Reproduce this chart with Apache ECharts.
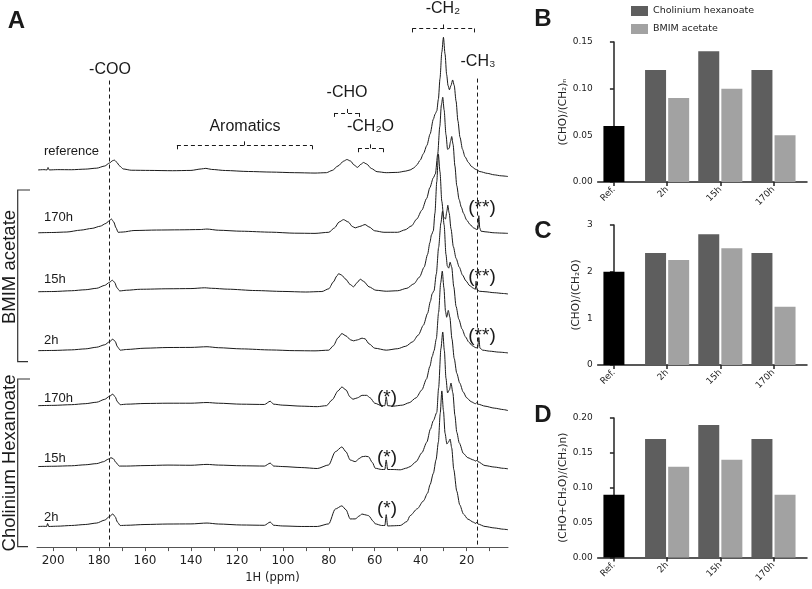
<!DOCTYPE html>
<html><head><meta charset="utf-8">
<script src="https://cdn.jsdelivr.net/npm/echarts@6/dist/echarts.min.js"></script>
<style>html,body{margin:0;padding:0;background:#fff}#c{width:812px;height:589px}</style>
</head><body><div id="c"></div>
<script>
// ---------------- DATA ----------------
const ppmLabelValues = [20, 40, 60, 80, 100, 120, 140, 160, 180, 200];
const ppmTickValues = [10, 20, 30, 40, 50, 60, 70, 80, 90, 100, 110, 120, 130, 140, 150, 160, 170, 180, 190, 200];
const traceNames = ['reference', '170h', '15h', '2h', '170h', '15h', '2h'];

// [ppm, intensity] (intensity relative to its own baseline)
const specReference = [[206.5,0],[204,0.3],[202.6,0],[202.2,2.5],[201.7,0],[198,0.3],[192,0.2],[186,0.8],[181,1.8],[177.5,4],[175.5,7],[174,9.5],[173.3,10],[172.4,8],[171,4],[169.5,1],[166,-0.3],[158,-0.5],[148,-0.8],[140,-0.5],[135.5,1],[133.5,1.6],[131,0.5],[125,-0.6],[115,-1.6],[105,-2.2],[95,-2.8],[86,-3.2],[81,-2.8],[78.5,-0.5],[76,4],[73.5,9],[72.1,10.6],[70.5,9],[69,5],[67.5,2.6],[66,5.8],[64.9,7.6],[63.5,6],[61.5,1.5],[59,-1.8],[55,-2.8],[50,-2.5],[46.5,-1.2],[44.6,0],[43,2],[41.7,5],[40.2,10],[38.8,16.6],[37.3,25],[35.9,36.6],[34.5,51.6],[33.7,57],[33,60],[32.3,72],[31.6,93],[30.8,120],[30.1,135],[29.4,118],[28.7,97],[28.1,86],[27.5,81.6],[26.8,86],[26.1,91.6],[25.4,86],[24.6,70],[23.8,50],[22.9,33.3],[21.8,21],[20.7,13.3],[19.2,7.5],[17.8,3.3],[16,0.5],[14.2,-1.7],[11,-3.5],[8,-5],[5,-6],[2,-6.7]];
const specBmim170 = [[206.5,0],[200,0.3],[194,0.8],[188,2.7],[183,4.5],[179.5,6.7],[177,9.5],[175.5,12.5],[174.6,14],[173.6,11],[172.6,5],[171.7,0.5],[169.5,0.8],[164.8,2.3],[155,2.8],[145,3],[136,3.3],[133,3.8],[128,2.6],[118,1.6],[105,0.6],[95,-0.4],[86,-0.6],[80,0.5],[77.5,5],[75.5,11],[73.6,13.4],[71.5,11],[69.8,6.5],[68.5,5],[66.5,6.5],[64.2,8.4],[62.5,6],[60,2],[56,0.5],[50,0.5],[46.8,3],[44,7],[41.7,14],[39.5,23],[37.4,35],[36,46],[34.5,56],[33.6,60],[32.6,80],[31.7,108],[31,130],[30.4,138],[29.8,125],[29,100],[28.3,85],[27.6,86],[27,93],[26.5,98],[25.9,90],[25.1,68],[24.3,48],[23.3,34],[22.3,26],[21.4,20],[20,13],[18.5,8.4],[17,5],[15.6,3.4],[15.1,4],[14.7,17.4],[14.3,5],[13.8,1.7],[12,1],[8,0],[5,-0.3],[2,-0.6]];
const specBmim15 = [[206.5,0],[200,0.2],[192,1],[186,2],[181,3.5],[177.5,6.5],[175.5,9.5],[174.2,11.7],[173.2,9.5],[172.2,4],[171,0.8],[168,1.5],[162,2.5],[150,3],[140,3.2],[134,4],[131,3.5],[124,2.6],[112,1.2],[100,0.3],[90,-0.3],[83,0.2],[80,3],[78,10],[76.5,16],[75.7,18.4],[74.5,17],[72.5,12.5],[70.8,7.5],[69.2,5],[67.8,9],[66.3,12.7],[64.8,10.5],[62.5,5],[59.5,1.5],[55,0.5],[50,1],[46,3.5],[43,8],[40.5,15],[38.5,25],[37,38],[36,50],[35.3,58],[34.5,62],[33.8,80],[33,112],[32.3,140],[31.6,122],[30.8,92],[30,76],[29.2,74],[28.6,82],[28.2,88],[27.6,80],[26.8,64],[25.8,46],[24.6,34],[23.2,25],[21.8,17],[20.3,11],[18.6,6],[17,3.5],[16.2,2.5],[15.9,10.7],[15.5,2],[14.5,0.5],[12,0],[8,-1],[4,-1.8],[2,-2.3]];
const specBmim2 = [[206.5,0],[200,0.2],[192,0.8],[186,1.8],[181,3.5],[177.5,6],[175.5,9],[174,11.7],[173,9.5],[172,4],[170.8,0.5],[168,1.2],[160,2.5],[150,3.2],[140,3.3],[133,4],[128,3],[118,1.8],[105,0.7],[95,0],[86,-0.2],[80,0.5],[78,5],[76,13],[74.3,17.4],[72.5,15],[70.5,11],[69.2,10],[67.5,11],[65.5,12.7],[64.2,12],[62.5,7],[60,2.5],[55,0.5],[50,2],[46.5,4.5],[43.5,9],[41,16],[38.8,26],[37,38],[35.8,50],[35,58],[34.2,61],[33.2,78],[32.2,105],[31.2,130],[30.5,142],[29.8,128],[29,98],[28.4,86],[27.8,84],[27.2,90],[26.5,85],[25.6,65],[24.6,45],[23.4,32],[22,22],[20.5,14],[19,8.5],[17.5,5],[16,3],[15.2,3],[14.7,13.4],[14.2,2.5],[13,0.5],[10,-0.5],[6,-1.5],[2,-2.3]];
const specChol170 = [[206.5,0],[200,0.3],[192,1],[186,2],[181,3.5],[177.5,6.5],[175.5,9.5],[174,11.7],[173,9],[172,4],[170.8,1],[168,1.5],[160,2.2],[150,2.5],[140,2.5],[133,3.2],[128,2.5],[118,1.5],[108,1.2],[105.5,4.5],[104,1.5],[100,0.5],[92,-0.5],[85,-1],[81,0],[78.5,6],[76,15],[74.3,19],[72.5,16],[70.8,9],[69.5,6.5],[67.5,8],[65.5,10.5],[63.5,10.5],[62,8],[60,2.5],[57,0],[55.6,0],[55,9],[54.4,0],[52,-0.5],[48,0.5],[45,3],[42,8],[39.5,16],[37.5,27],[36,40],[35,50],[34.2,56],[33.2,68],[32.2,95],[31.3,125],[30.6,137],[29.9,120],[29.2,96],[28.7,90],[28,97],[27.3,90],[26.4,68],[25.4,48],[24.3,33],[23,23],[21.5,14],[20,8],[18,4],[16.2,2],[15.6,3],[15,1.5],[12,-0.5],[8,-2.5],[4,-4],[2,-5]];
const specChol15 = [[206.5,0],[200,0.3],[192,0.8],[186,1.8],[181,3],[178,5],[176,7.5],[174.8,9],[173.8,8],[172.6,4],[171.2,0.5],[168,0.5],[160,1],[150,1.5],[140,1.3],[133,2.2],[128,1.5],[118,0.8],[108,0.5],[105.5,3.5],[104,0.5],[100,0],[92,-1],[85,-2],[80,1.7],[77.2,15],[74.3,20],[72.5,15],[70.7,6.7],[68.5,5],[66.5,8.5],[65.6,10],[64,10.5],[62.7,10],[61,4],[59.8,-1.7],[57,-3],[55.6,-3],[55,6.7],[54.4,-3],[52,-3],[48.9,-3.3],[46,-1.5],[44.6,0],[42,5],[39.5,14],[37.3,25],[35.8,38],[34.5,46.7],[33,55],[32.2,80],[31.2,120],[30.4,137],[29.7,118],[29,90],[28.3,75],[27.5,78],[26.8,85],[26,75],[25.1,52],[24.3,35],[23.2,24],[21.4,13.3],[19.5,9],[17,6.7],[16,5.5],[15.6,6.5],[15.1,5],[12,1],[8,-0.5],[4,-1.8],[2,-2.3]];
const specChol2 = [[206.5,0],[204,0.2],[202.8,0],[202.4,3],[201.9,0],[198,0.3],[192,1],[186,2],[181,3.5],[177.5,6.5],[175.5,10],[174,12.7],[173,10],[172,4.5],[170.8,1],[168,1.2],[160,2],[150,2.5],[140,2.6],[133,3.5],[128,2.5],[118,1.5],[108,1.2],[105.5,4.5],[104,1.2],[100,0.5],[92,0],[85,0],[80,2.7],[77.2,17.7],[74.3,21],[72.5,17],[70.7,7.7],[68.5,7.7],[66.5,11],[65.6,12.7],[63.5,11.5],[62.7,11],[60.5,5],[59.8,2.7],[57,1],[55.6,1],[55,12],[54.4,0.5],[52,0.7],[48.9,1],[46,5],[44.6,11],[41.5,18],[38.8,26],[37,34],[35.9,42.7],[34.5,54],[33.3,68],[32.3,86],[31.5,115],[30.8,138],[30.1,118],[29.4,95],[28.6,84],[27.9,86],[27.2,89],[26.5,80],[25.6,58],[24.3,36],[23,22],[21.4,12.7],[19.5,7.5],[17,4.3],[16,3],[15.6,4.5],[15.1,2.5],[12,0],[8,-1.5],[4,-2.8],[2,-3.3]];

// marker positions (ppm)
const cooPpm = 175.5;
const ch3Ppm = 15.6;

// bar panels
const barCategories = ['Ref.', '2h', '15h', '170h'];
const seriesNames = ['Cholinium hexanoate', 'BMIM acetate'];
const ratioB_ref = [0.06];
const ratioB_chol = [0.12, 0.14, 0.12];
const ratioB_bmim = [0.09, 0.10, 0.05];
const ratioC_ref = [2.0];
const ratioC_chol = [2.4, 2.8, 2.4];
const ratioC_bmim = [2.25, 2.5, 1.25];
const ratioD_ref = [0.09];
const ratioD_chol = [0.17, 0.19, 0.17];
const ratioD_bmim = [0.13, 0.14, 0.09];

// ---------------- LAYOUT / STYLE ----------------
const traceBaseline = [384, 320, 260, 200, 144, 82, 21]; // vertical stacking of the spectra
const INK = '#1a1a1a';
const SANS = '"Liberation Sans", Arial, sans-serif';
const DV = '"DejaVu Sans", sans-serif';

const chart = echarts.init(document.getElementById('c'), null, { renderer: 'canvas' });

function bracket(l, r, y, mid) {
  return [
    [{ coord: [l, y - 4] }, { coord: [l, y] }],
    [{ coord: [l, y] }, { coord: [r, y] }],
    [{ coord: [r, y] }, { coord: [r, y - 4] }],
    [{ coord: [mid, y] }, { coord: [mid, y + 6] }]
  ];
}

const spectra = [specReference, specBmim170, specBmim15, specBmim2, specChol170, specChol15, specChol2];
const series = spectra.map((s, i) => ({
  type: 'line', name: traceNames[i], xAxisIndex: 0, yAxisIndex: 0,
  data: s.map(p => [p[0], p[1] + traceBaseline[i]]),
  symbol: 'none', showSymbol: false, smooth: 0.25, smoothMonotone: 'x',
  lineStyle: { color: INK, width: 1 }, silent: true, z: 3
}));
series[0].markLine = {
  symbol: 'none', silent: true, label: { show: false },
  lineStyle: { type: [4, 3], color: INK, width: 1 },
  data: [
    [{ coord: [cooPpm, 475] }, { coord: [cooPpm, 0] }],
    [{ coord: [ch3Ppm, 477] }, { coord: [ch3Ppm, 0] }]
  ].concat(bracket(146.1, 87.3, 409, 116.7))
   .concat(bracket(77.7, 66.9, 442, 72.1))
   .concat(bracket(67.3, 56.4, 406, 61.8))
   .concat(bracket(43.7, 16.7, 528, 30.2))
};

const barColors = ['#000000', '#5e5e5e', '#a2a2a2'];
function barPanel(k, refVals, cholVals, bmimVals) {
  const xi = 1 + 2 * k, yi = 1 + k;
  series.push({ type: 'bar', name: 'Ref.', xAxisIndex: xi + 1, yAxisIndex: yi,
    data: refVals.map((v, j) => [j, v]), barWidth: 21, itemStyle: { color: barColors[0] } });
  series.push({ type: 'bar', name: seriesNames[0], xAxisIndex: xi, yAxisIndex: yi,
    data: cholVals.map((v, j) => [j + 1, v]), barWidth: 21, barGap: '10%', itemStyle: { color: barColors[1] } });
  series.push({ type: 'bar', name: seriesNames[1], xAxisIndex: xi, yAxisIndex: yi,
    data: bmimVals.map((v, j) => [j + 1, v]), barWidth: 21, barGap: '10%', itemStyle: { color: barColors[2] } });
}
barPanel(0, ratioB_ref, ratioB_chol, ratioB_bmim);
barPanel(1, ratioC_ref, ratioC_chol, ratioC_bmim);
barPanel(2, ratioD_ref, ratioD_chol, ratioD_bmim);

function barX(gi, visible) {
  return {
    type: 'value', gridIndex: gi, min: -0.305, max: 3.63, show: visible,
    axisLine: { show: true, onZero: false, lineStyle: { color: '#222', width: 1.5 } },
    axisTick: { show: true, customValues: [0, 1, 2, 3], length: 4, lineStyle: { color: '#222', width: 1.5 } },
    axisLabel: { show: true, customValues: [0, 1, 2, 3], rotate: 45, margin: 6,
      formatter: v => barCategories[Math.round(v)], fontFamily: DV, fontSize: 9, color: '#222' },
    splitLine: { show: false }
  };
}
function barY(gi, max, interval, name, gap, fmt) {
  return {
    type: 'value', gridIndex: gi, min: 0, max: max, interval: interval,
    name: name, nameLocation: 'middle', nameRotate: 90, nameGap: gap,
    nameTextStyle: { fontFamily: DV, fontSize: 10.5, color: '#222' },
    axisLine: { show: true, lineStyle: { color: '#222', width: 1.5 } },
    axisTick: { show: true, length: 4, lineStyle: { color: '#222', width: 1.5 } },
    axisLabel: { formatter: fmt, margin: 5, fontFamily: DV, fontSize: 9, color: '#222' },
    splitLine: { show: false }
  };
}
const f2 = v => v.toFixed(2);
const f0 = v => String(Math.round(v));

function txt(t, x, y, size, opts) {
  opts = opts || {};
  return {
    type: 'text', x: x, y: y, rotation: opts.rot || 0, silent: true, z: 10,
    style: {
      text: t, fill: opts.color || INK,
      font: (opts.bold ? 'bold ' : '') + size + 'px ' + (opts.family || SANS),
      align: opts.align || 'center', verticalAlign: 'middle',
      textAlign: opts.align || 'center', textVerticalAlign: 'middle'
    }
  };
}

const graphic = [
  txt('A', 16.5, 21, 24, { bold: true }),
  txt('B', 543, 19.5, 24, { bold: true }),
  txt('C', 543, 231, 24, { bold: true }),
  txt('D', 543, 415, 24, { bold: true }),
  txt('-COO', 110, 70, 16),
  txt('Aromatics', 245, 127, 16),
  txt('-CHO', 347, 93, 16),
  txt('-CH\u2082O', 370.5, 127, 16),
  txt('-CH\u2082', 443, 9, 16),
  txt('-CH\u2083', 478, 62, 16),
  txt(traceNames[0], 44, 151, 13, { align: 'left' }),
  txt(traceNames[1], 44, 217, 13, { align: 'left' }),
  txt(traceNames[2], 44, 279, 13, { align: 'left' }),
  txt(traceNames[3], 44, 340, 13, { align: 'left' }),
  txt(traceNames[4], 44, 398, 13, { align: 'left' }),
  txt(traceNames[5], 44, 458, 13, { align: 'left' }),
  txt(traceNames[6], 44, 517, 13, { align: 'left' }),
  txt('(**)', 482, 208, 19),
  txt('(**)', 482, 276.5, 19),
  txt('(**)', 482, 335.5, 19),
  txt('(*)', 387, 397.5, 19),
  txt('(*)', 387, 458, 19),
  txt('(*)', 387, 509, 19),
  txt('BMIM acetate', 10, 267, 18.5, { rot: Math.PI / 2 }),
  txt('Cholinium Hexanoate', 10, 463, 18.5, { rot: Math.PI / 2 }),
  { type: 'polyline', silent: true, shape: { points: [[30, 190], [17.7, 190], [17.7, 361.7], [28, 361.7]] },
    style: { stroke: '#333', lineWidth: 1.2, fill: null } },
  { type: 'polyline', silent: true, shape: { points: [[30, 379], [17.7, 379], [17.7, 546.7], [28, 546.7]] },
    style: { stroke: '#333', lineWidth: 1.2, fill: null } }
];

const option = {
  animation: false,
  backgroundColor: '#ffffff',
  grid: [
    { left: 37, top: 0, width: 471, height: 557 },
    { left: 597.7, top: 42, width: 209.3, height: 140 },
    { left: 597.7, top: 225, width: 209.3, height: 140 },
    { left: 597.7, top: 418, width: 209.3, height: 139.5 }
  ],
  xAxis: [
    {
      type: 'value', gridIndex: 0, min: 2, max: 207, inverse: true,
      name: '1H (ppm)', nameLocation: 'middle', nameGap: 20,
      nameTextStyle: { fontFamily: DV, fontSize: 11.5, color: '#222' },
      axisLine: { show: true, onZero: false, lineStyle: { color: '#555', width: 1 } },
      axisTick: { show: true, customValues: ppmTickValues, length: 4, lineStyle: { color: '#555', width: 1 } },
      axisLabel: { customValues: ppmLabelValues, margin: 8, fontFamily: DV, fontSize: 12, color: '#222' },
      splitLine: { show: false }
    },
    barX(1, true), barX(1, false),
    barX(2, true), barX(2, false),
    barX(3, true), barX(3, false)
  ],
  yAxis: [
    { type: 'value', gridIndex: 0, min: 0, max: 557, show: false, splitLine: { show: false } },
    barY(1, 0.15, 0.05, '(CHO)/(CH\u2082)\u2099', 29, f2),
    barY(2, 3, 1, '(CHO)/(CH\u2082O)', 16, f0),
    barY(3, 0.20, 0.05, '(CHO+CH\u2082O)/(CH\u2082)n)', 27, f2)
  ],
  legend: {
    data: seriesNames, left: 626, top: 1, orient: 'vertical',
    itemWidth: 17, itemHeight: 10, itemGap: 8, icon: 'rect', selectedMode: false,
    textStyle: { fontFamily: DV, fontSize: 9.5, color: '#222' }
  },
  graphic: graphic,
  series: series
};
chart.setOption(option);
</script>
</body></html>
